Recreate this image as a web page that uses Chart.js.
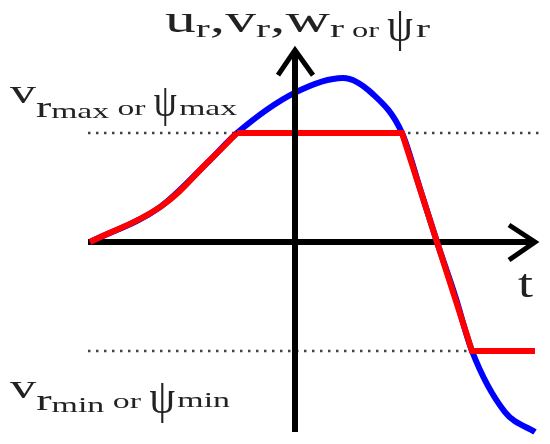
<!DOCTYPE html>
<html>
<head>
<meta charset="utf-8">
<script src="https://cdn.jsdelivr.net/npm/chart.js@4.4.0/dist/chart.umd.min.js"></script>
<style>
  html, body { margin: 0; padding: 0; background: #fff; }
</style>
</head>
<body>
<canvas id="satChart" width="550" height="444"></canvas>
<script>
// values: t in arbitrary units (0 = vertical axis),
// signal scaled so that the saturation limits sit at +1 / -1
const LIMIT_MAX = 1;
const LIMIT_MIN = -1;

// unsaturated reference (blue)
const blueT = [-4.1, -2.7, -1.7, -1.16, 0, 0.96, 1.55, 2.14, 2.5, 2.84, 3.2, 3.54, 4.2, 4.8];
const blueV = [0, 0.32, 0.752, 1.0, 1.37, 1.505, 1.36, 1.0, 0.49, 0, -0.49, -1.0, -1.56, -1.743];

// saturated reference (red): smooth rise, then clipped part
const redRiseT = [-4.1, -2.7, -1.7, -1.16];
const redRiseV = [0, 0.32, 0.752, 1.0];
const redClipT = [-1.16, 2.14, 3.54, 4.8];
const redClipV = [LIMIT_MAX, LIMIT_MAX, LIMIT_MIN, LIMIT_MIN];

// axes and arrow heads
const tAxisT = [-4.14, 4.78];
const tAxisV = [0, 0];
const vAxisT = [0, 0];
const vAxisV = [-1.743, 1.74];
const tArrowT = [4.28, 4.8, 4.28];
const tArrowV = [0.156, 0, -0.165];
const vArrowT = [-0.34, 0, 0.36];
const vArrowV = [1.53, 1.76, 1.53];

// dotted limit lines
const maxLineT = [-4.14, 4.9];
const minLineT = [-4.14, 3.5];

const FONT = "'Liberation Serif', serif";
const INK = '#222';

// text runs; sx given = fixed horizontal scale, others stretched to fill w
const labels = [
  { x: 165, y: 32, w: 265, runs: [
    { t: 'u', s: 38 }, { t: 'r', s: 26, dy: 5 }, { t: ',', s: 38 },
    { t: 'v', s: 38 }, { t: 'r', s: 26, dy: 5 }, { t: ',', s: 38 },
    { t: 'w', s: 38 }, { t: 'r', s: 26, dy: 5 }, { t: ' or ', s: 20, dy: 5 },
    { t: 'ψ', s: 48, dy: 9, sx: 0.85 }, { t: ' ', s: 8 }, { t: 'r', s: 26, dy: 5 } ] },
  { x: 10, y: 103, w: 227, runs: [
    { t: 'v', s: 34 }, { t: 'r', s: 30, dy: 14 }, { t: 'max', s: 22, dy: 15 },
    { t: ' or ', s: 22, dy: 12 }, { t: 'ψ', s: 46, dy: 13, sx: 0.8 }, { t: ' ', s: 6 }, { t: 'max', s: 22, dy: 12 } ] },
  { x: 10, y: 398, w: 220, runs: [
    { t: 'v', s: 34 }, { t: 'r', s: 30, dy: 12 }, { t: 'min', s: 22, dy: 14 },
    { t: ' or ', s: 22, dy: 10 }, { t: 'ψ', s: 48, dy: 15, sx: 0.85 }, { t: ' ', s: 6 }, { t: 'min', s: 22, dy: 9 } ] },
  { x: 518, y: 297, w: 15, runs: [ { t: 't', s: 40 } ] }
];

function pts(xs, ys) {
  return xs.map((x, i) => ({ x: x, y: ys[i] }));
}

function drawRuns(ctx, lb) {
  let fixedW = 0, varW = 0;
  lb.runs.forEach(r => {
    ctx.font = r.s + 'px ' + FONT;
    const m = ctx.measureText(r.t).width;
    if (r.sx) fixedW += m * r.sx; else varW += m;
  });
  const stretch = (lb.w - fixedW) / varW;
  ctx.fillStyle = INK;
  ctx.textBaseline = 'alphabetic';
  let x = lb.x;
  lb.runs.forEach(r => {
    const sx = r.sx || stretch;
    ctx.font = r.s + 'px ' + FONT;
    ctx.save();
    ctx.translate(x, lb.y + (r.dy || 0));
    ctx.scale(sx, 1);
    ctx.fillText(r.t, 0, 0);
    ctx.restore();
    x += ctx.measureText(r.t).width * sx;
  });
}

const labelPlugin = {
  id: 'labelText',
  afterDraw: function(chart) {
    labels.forEach(lb => drawRuns(chart.ctx, lb));
  }
};

const whiteBg = {
  id: 'whiteBg',
  beforeDraw: function(chart) {
    const ctx = chart.ctx;
    ctx.save();
    ctx.fillStyle = '#fff';
    ctx.fillRect(0, 0, chart.width, chart.height);
    ctx.restore();
  }
};

const base = { fill: false, pointRadius: 0, tension: 0, borderCapStyle: 'butt', borderJoinStyle: 'miter' };

new Chart(document.getElementById('satChart'), {
  type: 'line',
  data: {
    datasets: [
      Object.assign({}, base, { label: 'vertical axis', data: pts(vAxisT, vAxisV), borderColor: '#000', borderWidth: 6, order: 0 }),
      Object.assign({}, base, { label: 'vertical arrow', data: pts(vArrowT, vArrowV), borderColor: '#000', borderWidth: 5, order: 0 }),
      Object.assign({}, base, { label: 'red rise', data: pts(redRiseT, redRiseV), borderColor: '#ff0000', borderWidth: 6, tension: 0.4, order: 1 }),
      Object.assign({}, base, { label: 'red clipped', data: pts(redClipT, redClipV), borderColor: '#ff0000', borderWidth: 6, order: 1 }),
      Object.assign({}, base, { label: 'blue', data: pts(blueT, blueV), borderColor: '#0000ff', borderWidth: 6, cubicInterpolationMode: 'monotone', order: 2 }),
      Object.assign({}, base, { label: 't axis', data: pts(tAxisT, tAxisV), borderColor: '#000', borderWidth: 6, order: 3 }),
      Object.assign({}, base, { label: 't arrow', data: pts(tArrowT, tArrowV), borderColor: '#000', borderWidth: 5, order: 3 }),
      Object.assign({}, base, { label: 'max', data: pts(maxLineT, [LIMIT_MAX, LIMIT_MAX]), borderColor: '#444', borderWidth: 2.5, borderDash: [2.5, 5.5], order: 4 }),
      Object.assign({}, base, { label: 'min', data: pts(minLineT, [LIMIT_MIN, LIMIT_MIN]), borderColor: '#444', borderWidth: 2.5, borderDash: [2.5, 5.5], order: 4 })
    ]
  },
  options: {
    responsive: false,
    animation: false,
    layout: { padding: 0 },
    plugins: { legend: { display: false }, tooltip: { enabled: false } },
    scales: {
      x: { type: 'linear', min: -5.9, max: 5.1, display: false },
      y: { type: 'linear', min: -1.853, max: 2.22, display: false }
    }
  },
  plugins: [whiteBg, labelPlugin]
});
</script>
</body>
</html>
